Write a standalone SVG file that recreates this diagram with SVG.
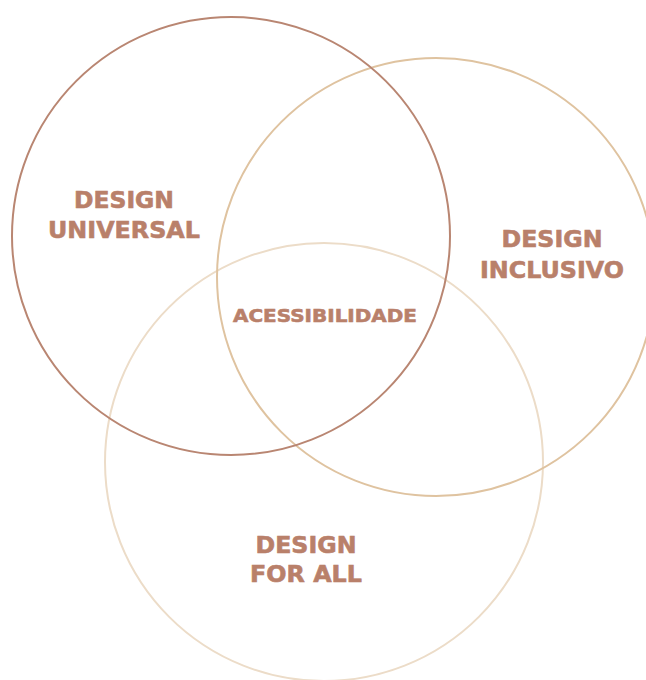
<svg xmlns="http://www.w3.org/2000/svg" width="646" height="680" viewBox="0 0 646 680">
<style>
.c{fill:none;stroke-width:2}
.t{font-family:"DejaVu Sans","Liberation Sans",sans-serif;font-weight:bold;fill:#b9806a;stroke:#b9806a;stroke-width:0.6;text-anchor:middle}
.big{font-size:23.5px}
.small{font-size:18px}
</style>
<rect width="646" height="680" fill="#ffffff"/>
<g id="circle-for-all"><circle class="c" cx="324" cy="462" r="219" stroke="#ecdcc8"/></g>
<g id="circle-inclusivo"><circle class="c" cx="436" cy="277" r="219" stroke="#dfc3a0"/></g>
<g id="circle-universal"><circle class="c" cx="231" cy="236" r="219" stroke="#b98672"/></g>
<g id="label-universal"><text class="t big" x="124" y="208" textLength="100" lengthAdjust="spacingAndGlyphs">DESIGN</text><text class="t big" x="124" y="238" textLength="152" lengthAdjust="spacingAndGlyphs">UNIVERSAL</text></g>
<g id="label-inclusivo"><text class="t big" x="552" y="247" textLength="101" lengthAdjust="spacingAndGlyphs">DESIGN</text><text class="t big" x="552" y="278" textLength="144" lengthAdjust="spacingAndGlyphs">INCLUSIVO</text></g>
<g id="label-acessibilidade"><text class="t small" x="325" y="322" textLength="184" lengthAdjust="spacingAndGlyphs">ACESSIBILIDADE</text></g>
<g id="label-for-all"><text class="t big" x="306" y="553" textLength="101" lengthAdjust="spacingAndGlyphs">DESIGN</text><text class="t big" x="306" y="582" textLength="112" lengthAdjust="spacingAndGlyphs">FOR ALL</text></g>
</svg>
